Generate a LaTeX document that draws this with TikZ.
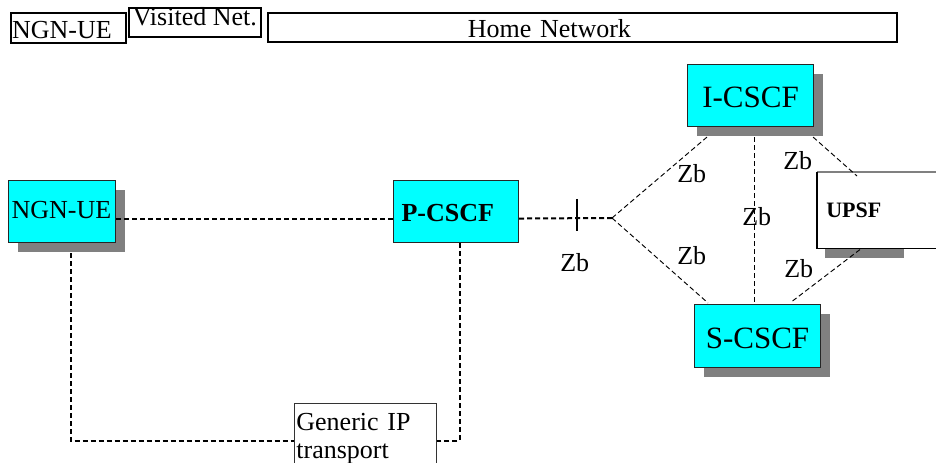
\documentclass[tikz,border=0pt]{standalone}
\usepackage{fontspec}
\setmainfont{Liberation Serif}
\usetikzlibrary{shadows}
\definecolor{boxcyan}{HTML}{00FFFF}
\definecolor{shadowgray}{HTML}{808080}
\tikzset{
  px/.style={x=0.75pt,y=-0.75pt},
  txt/.style={font=\fontsize{19.5}{21}\selectfont},
  bigtxt/.style={font=\fontsize{23.25}{25}\selectfont},
  topbox/.style={draw=black,line width=1.2pt,anchor=north west,inner ysep=0pt,txt},
  netbox/.style={draw=black!85,line width=0.8pt,fill=boxcyan,anchor=north west,inner ysep=0pt,txt},
  shad/.style={drop shadow={shadow xshift=6.75pt,shadow yshift=-6.75pt,fill=shadowgray,opacity=1}},
  thickdash/.style={line width=1.5pt,dash pattern=on 3.75pt off 2.25pt},
  thindash/.style={line width=0.7pt,dash pattern=on 3.75pt off 2.25pt},
  zblabel/.style={anchor=base west,inner sep=0pt,txt}
}
\begin{document}
\begin{tikzpicture}[px]
\useasboundingbox (0,0) rectangle (936,463);
\begin{scope}
\clip (0,0) rectangle (936,463);
% top header boxes
\node[topbox,align=left,minimum width=86.25pt,text width=84.25pt,inner xsep=1pt,text height=19.5pt,text depth=3pt] (tngn) at (10,12) {NGN-UE};
\node[topbox,minimum width=99pt,inner xsep=0pt,text height=13.5pt,text depth=8.25pt] (tvis) at (128,7) {Visited Net.};
\node[topbox,align=left,minimum width=471.75pt,text width=171.75pt,inner xsep=150pt,text height=18.75pt,text depth=3pt] (thome) at (267,12) {Home Network};

% main nodes
\node[netbox,shad,minimum width=80.25pt,text width=75.75pt,inner xsep=2.25pt,align=left,text height=28.5pt,text depth=18pt] (ue) at (8,180) {NGN-UE};
\node[netbox,minimum width=93.75pt,text width=81.75pt,inner xsep=6pt,align=left,text height=30.75pt,text depth=15.75pt,font=\fontsize{19.5}{21}\selectfont\bfseries] (pcscf) at (393,180) {P-CSCF};
\node[netbox,shad,bigtxt,minimum width=94.5pt,text width=94.5pt,inner xsep=0pt,align=center,text height=32.25pt,text depth=14.25pt] (icscf) at (687,64) {I-CSCF};
\node[netbox,shad,bigtxt,minimum width=94.5pt,text width=94.5pt,inner xsep=0pt,align=center,text height=33pt,text depth=14.25pt] (scscf) at (694,304) {S-CSCF};

% UPSF box (extends beyond right border)
\fill[shadowgray] (825,248) rectangle (904,258);
\node[anchor=north west,fill=white,inner ysep=0pt,inner xsep=6.75pt,minimum width=112.5pt,text width=99pt,align=left,text height=33.75pt,text depth=23.25pt,font=\fontsize{16.5}{18}\selectfont\bfseries] (upsf) at (817,172) {UPSF};
\draw[shadowgray,line width=0.8pt] (upsf.north west) -- (upsf.north east);
\draw[black,line width=0.8pt] (upsf.north west) -- (upsf.south west) -- (upsf.south east);

% generic IP transport
\node[draw=black!80,line width=0.6pt,fill=white,anchor=north west,inner ysep=0pt,inner xsep=1.5pt,minimum width=106.5pt,text width=103.5pt,align=left,text height=20.25pt,text depth=30pt,txt] (gen) at (294,403) {Generic IP\\transport};

% connectors
\coordinate (fork) at (612,218);
\coordinate (tick) at (577,218);
\draw[thickdash] ([yshift=-5.25pt]ue.east) -- ([yshift=-5.25pt]pcscf.west);
\draw[thickdash] ([yshift=-5.25pt]pcscf.east) -- (fork);
\draw[line width=0.8pt] (tick) ++(0,-19) -- ++(0,32);
\draw[thindash] (fork) -- ([xshift=15pt,yshift=-7.5pt]icscf.south west);
\draw[thindash] (fork) -- ([xshift=10.5pt,yshift=0.75pt]scscf.north west);
\draw[thindash] ([xshift=3pt,yshift=-7.5pt]icscf.south) -- ([xshift=-2.25pt]scscf.north);
\draw[thindash] ([xshift=-0.75pt,yshift=-7.5pt]icscf.south east) -- ([xshift=30pt,yshift=-3pt]upsf.north west);
\draw[thindash] ([xshift=26.25pt,yshift=2.25pt]scscf.north) -- ([xshift=32.25pt,yshift=-0.75pt]upsf.south west);
\draw[thickdash] ([xshift=6.375pt,yshift=-7.5pt]ue.south) |- ([yshift=-28.5pt]gen.north west);
\draw[thickdash] ([xshift=2.625pt]pcscf.south) |- ([yshift=-28.5pt]gen.north east);

% Zb labels
\node[zblabel] (zb1) at (677,183) {Zb};
\node[zblabel] (zb2) at (742,226) {Zb};
\node[zblabel] (zb3) at (783,170) {Zb};
\node[zblabel] (zb4) at (677,265) {Zb};
\node[zblabel] (zb5) at (784,278) {Zb};
\node[zblabel] (zb6) at (560,272) {Zb};
\end{scope}
\end{tikzpicture}
\end{document}
